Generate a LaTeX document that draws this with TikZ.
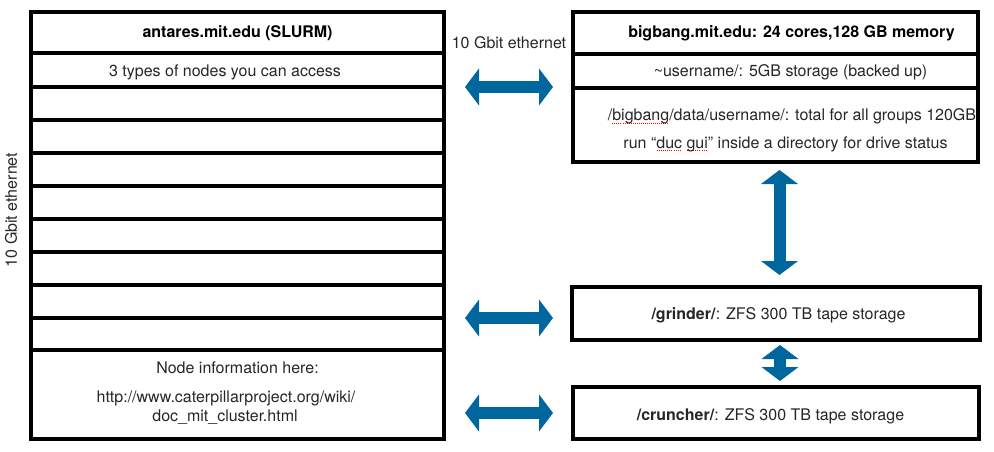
\documentclass[tikz,border=0pt]{standalone}
\usepackage{fontspec}
\setmainfont{TeX Gyre Heros}
\usetikzlibrary{arrows.meta,positioning}
\definecolor{linkblue}{RGB}{0,103,158}
\newcommand\spellmark[1]{\setbox0=\hbox{#1}\rlap{\color{red}\raisebox{-3pt}{\hbox to \wd0{\xleaders\hbox{\rule{1pt}{1pt}\kern1pt}\hfill}}}\box0\relax}

\tikzset{
	cell/.style={draw, line width=4pt, inner sep=0pt, outer sep=0pt},
	lcell/.style={cell, minimum width=413pt},
	rcell/.style={cell, minimum width=405pt},
	txt/.style={font=\fontsize{16}{19}\selectfont, text=black!85, inner sep=0pt, anchor=base},
	head/.style={txt, font=\fontsize{16}{19}\selectfont\bfseries, text=black},
	link/.style={linkblue, line width=12pt, <->, >={Triangle[width=37pt,length=14pt,line width=0pt]}}
}

\begin{document}
\begin{tikzpicture}[x=1pt, y=-1pt]
			%%%%% START %%%%%
			\useasboundingbox (0, 0) rectangle (994, 452);
			
			% antares
			\node[lcell, minimum height=41pt] (lhead) at (237.5, 32.5) {};
			\node[lcell, minimum height=34pt] (lrow1) at (237.5, 70) {};
			\node[lcell, minimum height=33pt] (lrow2) at (237.5, 103.5) {};
			\node[lcell, minimum height=33pt] (lrow3) at (237.5, 136.5) {};
			\node[lcell, minimum height=33pt] (lrow4) at (237.5, 169.5) {};
			\node[lcell, minimum height=33pt] (lrow5) at (237.5, 202.5) {};
			\node[lcell, minimum height=33pt] (lrow6) at (237.5, 235.5) {};
			\node[lcell, minimum height=33pt] (lrow7) at (237.5, 268.5) {};
			\node[lcell, minimum height=33pt] (lrow8) at (237.5, 301.5) {};
			\node[lcell, minimum height=32pt] (lrow9) at (237.5, 334) {};
			\node[lcell, minimum height=89pt] (linfo) at (237.5, 394.5) {};
			
			\node[head] (lheadtxt) at (237.5, 38) {antares.mit.edu (SLURM)};
			\node[txt] (lrow1txt) at (225, 77) {3 types of nodes you can access};
			\node[txt] (linfotxt) at (237.5, 373) {Node information here:};
			\node[txt] (lurl) at (226, 402) {http://www.caterpillarproject.org/wiki/};
			\node[txt] (ldoc) at (225, 421) {doc\_mit\_cluster.html};
			
			% bigbang
			\node[rcell, minimum height=42pt] (rhead) at (775.5, 33) {};
			\node[rcell, minimum height=34pt] (rhome) at (775.5, 71) {};
			\node[rcell, minimum height=74pt] (rdata) at (775.5, 125) {};
			
			\node[head] (rheadtxt) at (791.5, 38) {bigbang.mit.edu: 24 cores,128 GB memory};
			\node[txt] (rhometxt) at (790.5, 77) {\textasciitilde username/: 5GB storage (backed up)};
			\node[txt] (rdatatxt) at (792, 121) {/\spellmark{bigbang}/data/username/: total for all groups 120GB};
			\node[txt] (rductxt) at (785.5, 148) {run “\spellmark{duc} \spellmark{gui}” inside a directory for drive status};
			
			% storage
			\node[rcell, minimum width=408pt, minimum height=53pt] (grinder) at (776, 313.5) {};
			\node[rcell, minimum width=406pt, minimum height=52pt] (cruncher) at (776, 413) {};
			\node[txt] (grindertxt) at (778.5, 319) {\textbf{/grinder/}: ZFS 300 TB tape storage};
			\node[txt] (crunchertxt) at (770.5, 420) {\textbf{/cruncher/}: ZFS 300 TB tape storage};
			
			% ethernet labels
			\node[txt] (toplabel) at (509, 49) {10 Gbit ethernet};
			\node[txt, anchor=center, rotate=90] (sidelabel) at (11, 210) {10 Gbit ethernet};
			
			% arrows
			\draw[link, shorten <=21pt, shorten >=20pt] (lrow1.south east) -- (rhome.west |- lrow1.south);
			\draw[link, shorten <=21pt, shorten >=19pt] (lrow8.south east) -- (grinder.west |- lrow8.south);
			\draw[link, shorten <=21pt, shorten >=20pt] (linfo.east |- cruncher) -- (cruncher.west);
			
			\coordinate (vtop) at ([xshift=4pt]rdata.south);
			\draw[link, shorten <=8pt, shorten >=12pt] (vtop) -- (vtop |- grinder.north);
			\coordinate (vmid) at ([xshift=4pt]grinder.south);
			\draw[link, shorten <=5pt, shorten >=6pt] (vmid) -- (vmid |- cruncher.north);
			
			%%%%% END %%%%%
\end{tikzpicture}
\end{document}
